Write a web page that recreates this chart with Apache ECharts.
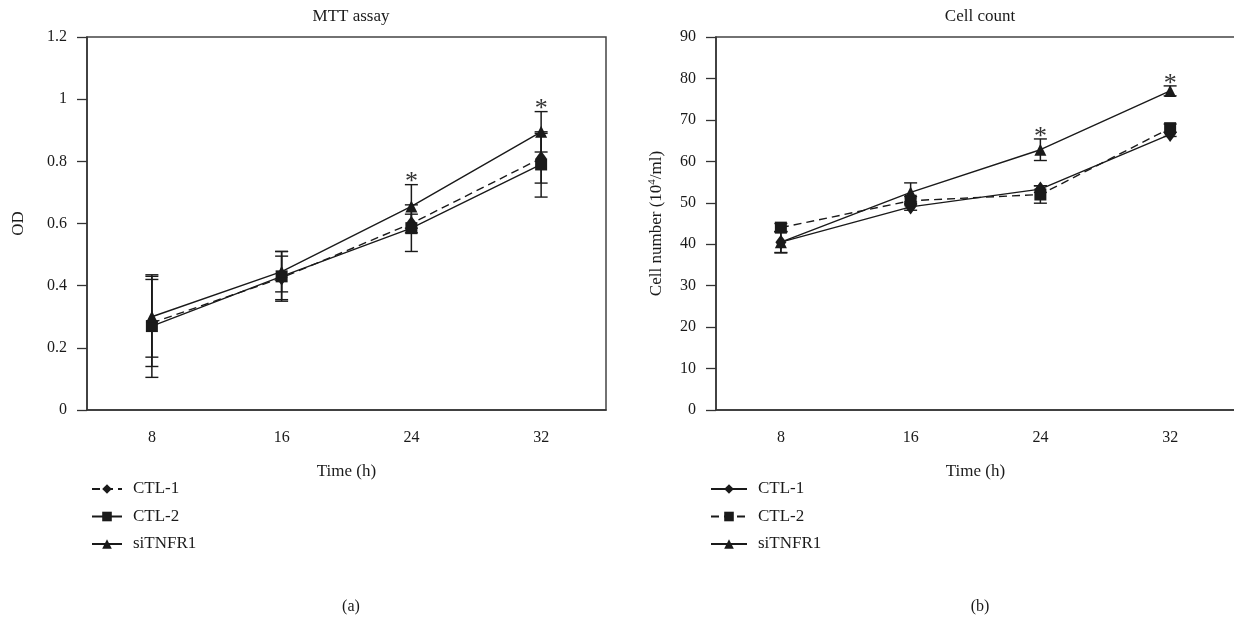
<!DOCTYPE html>
<html>
<head>
<meta charset="utf-8">
<script src="https://cdn.jsdelivr.net/npm/echarts@6/dist/echarts.min.js"></script>
<style>
  html, body { margin: 0; padding: 0; background: #fff; }
  #wrap { position: relative; width: 1234px; height: 623px; overflow: hidden; }
  #mtt { position: absolute; left: 0; top: 0; width: 617px; height: 623px; }
  #cell { position: absolute; left: 617px; top: 0; width: 640px; height: 623px; }
</style>
</head>
<body>
<div id="wrap">
  <div id="mtt"></div>
  <div id="cell"></div>
</div>
<script>
// 时间点
const times = ['8', '16', '24', '32']
const seriesNames = ['CTL-1', 'CTL-2', 'siTNFR1']

// (a) MTT assay
const mttCtl1 = [0.28, 0.425, 0.60, 0.81]
const mttCtl1Err = [0.14, 0.07, 0.03, 0.08]
const mttCtl2 = [0.27, 0.43, 0.585, 0.79]
const mttCtl2Err = [0.165, 0.08, 0.075, 0.105]
const mttSi = [0.30, 0.445, 0.655, 0.895]
const mttSiErr = [0.13, 0.065, 0.07, 0.065]
const mttStars = [0, 0, 1, 1]

// (b) Cell count
const cellCtl1 = [40.5, 49, 53.3, 66.5]
const cellCtl1Err = [2.5, 0.8, 0.8, 0.5]
const cellCtl2 = [44, 50.5, 52, 68]
const cellCtl2Err = [1, 1, 2.1, 1]
const cellSi = [40.5, 52.5, 62.8, 77]
const cellSiErr = [2.6, 2.3, 2.6, 1.2]
const cellStars = [0, 0, 1, 1]

const FONT = '"Liberation Serif", "DejaVu Serif", serif'
const INK = '#1a1a1a'

// 误差棒 + 星号
function errorSeries (values, errs, stars) {
  const data = values.map((v, i) => [i, v - errs[i], v + errs[i], stars ? stars[i] : 0])
  return {
    type: 'custom',
    silent: true,
    z: 1,
    data,
    renderItem (params, api) {
      const lo = api.coord([api.value(0), api.value(1)])
      const hi = api.coord([api.value(0), api.value(2)])
      const w = 6.5
      const children = [
        { type: 'line', shape: { x1: lo[0], y1: lo[1], x2: hi[0], y2: hi[1] }, style: { stroke: INK, lineWidth: 1.5 } },
        { type: 'line', shape: { x1: lo[0] - w, y1: lo[1], x2: lo[0] + w, y2: lo[1] }, style: { stroke: INK, lineWidth: 1.4 } },
        { type: 'line', shape: { x1: hi[0] - w, y1: hi[1], x2: hi[0] + w, y2: hi[1] }, style: { stroke: INK, lineWidth: 1.4 } }
      ]
      if (api.value(3)) {
        children.push({
          type: 'text',
          style: { text: '*', x: hi[0], y: hi[1] - 2, align: 'center', verticalAlign: 'middle', fontSize: 26, fontFamily: FONT, fill: '#333' }
        })
      }
      return { type: 'group', children }
    }
  }
}

function lineSeries (name, values, symbol, dashed) {
  return {
    name,
    type: 'line',
    data: values,
    symbol,
    symbolSize: symbol === 'diamond' ? [11, 15] : 12,
    z: 3,
    itemStyle: { color: INK },
    lineStyle: { color: INK, width: 1.4, type: dashed ? [8, 5] : 'solid' }
  }
}

function buildOption (cfg) {
  return {
    animation: false,
    textStyle: { fontFamily: FONT },
    title: [
      { text: cfg.title, left: cfg.gridLeft + 259, textAlign: 'center', top: 3, textStyle: { fontFamily: FONT, fontSize: 17, fontWeight: 'normal', color: INK } },
      { text: cfg.sub, left: cfg.gridLeft + 259, textAlign: 'center', top: 594, textStyle: { fontFamily: FONT, fontSize: 16, fontWeight: 'normal', color: INK } }
    ],
    legend: {
      orient: 'vertical',
      left: cfg.legendLeft,
      top: 475,
      itemWidth: cfg.legendItemWidth,
      itemHeight: 12,
      itemGap: 9.5,
      data: seriesNames,
      selectedMode: false,
      textStyle: { fontFamily: FONT, fontSize: 17, color: INK, lineHeight: 18, padding: [0, 0, 0, 6] }
    },
    grid: {
      left: cfg.gridLeft,
      top: 37,
      width: 519,
      height: 373,
      show: true,
      borderColor: '#444',
      borderWidth: 1.5
    },
    xAxis: {
      type: 'category',
      data: times,
      boundaryGap: true,
      name: 'Time (h)',
      nameLocation: 'middle',
      nameGap: 53,
      nameTextStyle: { fontFamily: FONT, fontSize: 17, color: INK },
      axisLine: { lineStyle: { color: '#333', width: 1.5 } },
      axisTick: { inside: false, length: 12, lineStyle: { color: '#333', width: 1.3 } },
      axisLabel: { margin: 20, fontFamily: FONT, fontSize: 16, color: INK }
    },
    yAxis: {
      type: 'value',
      min: cfg.yMin,
      max: cfg.yMax,
      interval: cfg.yInterval,
      name: cfg.yName,
      nameLocation: 'middle',
      nameGap: cfg.yNameGap,
      nameTextStyle: {
        fontFamily: FONT,
        fontSize: 17,
        color: INK,
        rich: { sup: { fontFamily: FONT, fontSize: 11, color: INK, verticalAlign: 'top', padding: [0, 0, 8, 0] } }
      },
      splitLine: { show: false },
      axisLine: { show: true, lineStyle: { color: '#333', width: 1.5 } },
      axisTick: { show: true, inside: false, length: 10, lineStyle: { color: '#333', width: 1.3 } },
      axisLabel: { margin: cfg.yLabelMargin, fontFamily: FONT, fontSize: 16, color: INK }
    },
    series: cfg.series
  }
}

const mttChart = echarts.init(document.getElementById('mtt'))
mttChart.setOption(buildOption({
  title: 'MTT assay',
  sub: '(a)',
  gridLeft: 87,
  legendLeft: 86,
  legendItemWidth: 30,
  yMin: 0,
  yMax: 1.2,
  yInterval: 0.2,
  yName: 'OD',
  yNameGap: 60,
  yLabelMargin: 20,
  series: [
    lineSeries('CTL-1', mttCtl1, 'diamond', true),
    lineSeries('CTL-2', mttCtl2, 'rect', false),
    lineSeries('siTNFR1', mttSi, 'triangle', false),
    errorSeries(mttCtl1, mttCtl1Err),
    errorSeries(mttCtl2, mttCtl2Err),
    errorSeries(mttSi, mttSiErr, mttStars)
  ]
}))

const cellChart = echarts.init(document.getElementById('cell'))
cellChart.setOption(buildOption({
  title: 'Cell count',
  sub: '(b)',
  gridLeft: 99,
  legendLeft: 88,
  legendItemWidth: 36,
  yMin: 0,
  yMax: 90,
  yInterval: 10,
  yName: 'Cell number (10{sup|4}/ml)',
  yNameGap: 50,
  yLabelMargin: 20,
  series: [
    lineSeries('CTL-1', cellCtl1, 'diamond', false),
    lineSeries('CTL-2', cellCtl2, 'rect', true),
    lineSeries('siTNFR1', cellSi, 'triangle', false),
    errorSeries(cellCtl1, cellCtl1Err),
    errorSeries(cellCtl2, cellCtl2Err),
    errorSeries(cellSi, cellSiErr, cellStars)
  ]
}))
</script>
</body>
</html>
